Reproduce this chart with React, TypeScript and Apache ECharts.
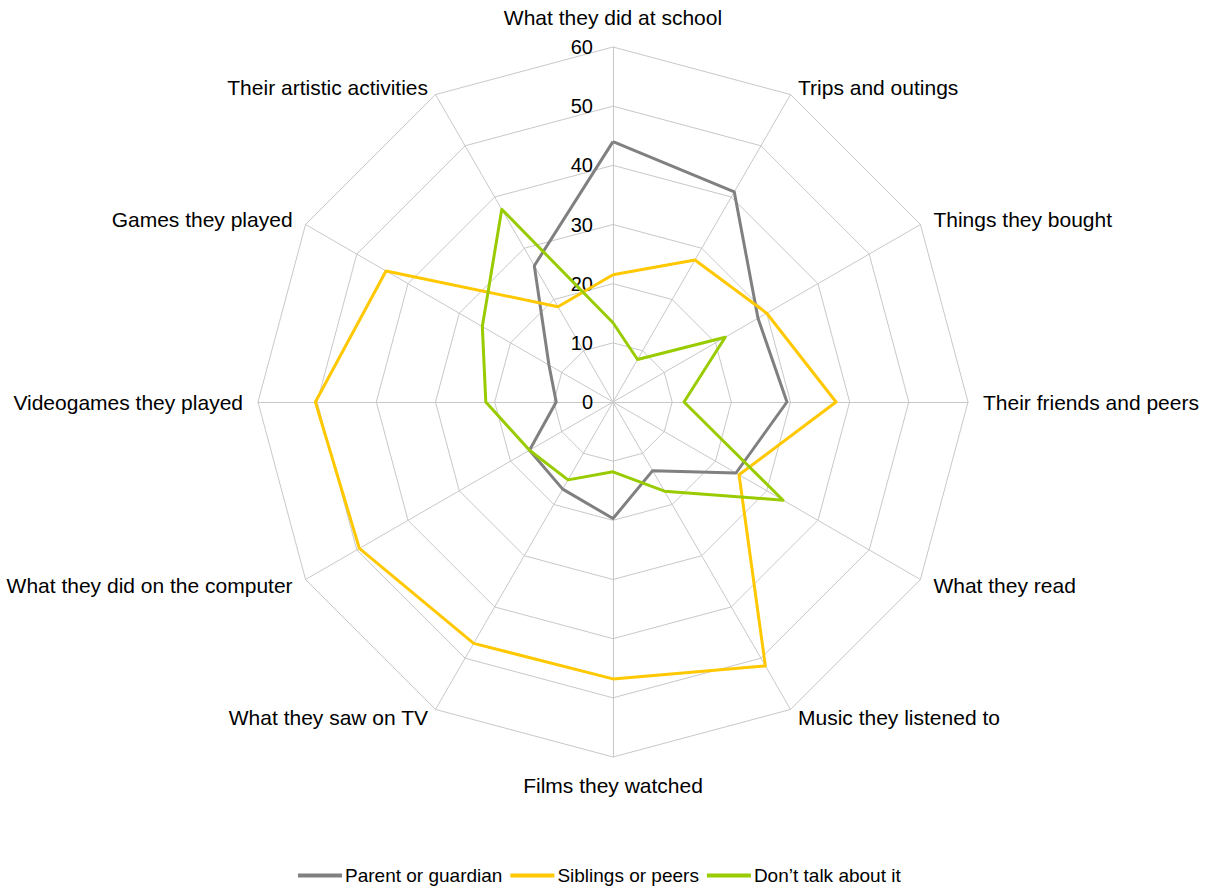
import React, { useEffect, useRef } from "react";
import * as echarts from "echarts";

// Categories, clockwise from the top
const categories = [
  "What they did at school",
  "Trips and outings",
  "Things they bought",
  "Their friends and peers",
  "What they read",
  "Music they listened to",
  "Films they watched",
  "What they saw on TV",
  "What they did on the computer",
  "Videogames they played",
  "Games they played",
  "Their artistic activities",
];

const seriesNames = ["Parent or guardian", "Siblings or peers", "Don\u2019t talk about it"];

const parentValues = [44, 41, 28.3, 29.4, 24, 13.4, 19.7, 17, 16.3, 9.6, 12.5, 26.6];
const siblingValues = [21.5, 27.7, 30, 37.7, 24.6, 51.5, 46.8, 47.1, 49.5, 50.3, 44.3, 18.6];
const noTalkValues = [13.4, 8.3, 21.9, 12, 33.2, 17.4, 11.8, 15.2, 16.3, 21.5, 25.5, 37.6];

const axisMax = 60;
const axisSplits = 6;

const colors = ["#808080", "#FFC800", "#99CC00"];

// label nudges (layout only), clockwise order
const nameStyles: any[] = [
  { verticalAlign: "bottom", padding: [0, 0, 4, 0] },
  { verticalAlign: "top", lineHeight: 11 },
  { verticalAlign: "top", lineHeight: 5 },
  {},
  { verticalAlign: "bottom", lineHeight: 4 },
  { verticalAlign: "bottom", lineHeight: 9 },
  { verticalAlign: "top", padding: [3, 0, 0, 0] },
  { verticalAlign: "bottom", lineHeight: 9 },
  { verticalAlign: "bottom", lineHeight: 4 },
  {},
  { verticalAlign: "top", lineHeight: 5 },
  { verticalAlign: "top", lineHeight: 11 },
];

// ECharts radar runs counter-clockwise: reorder (first stays on top)
const order = [0, ...Array.from({ length: categories.length - 1 }, (_, i) => categories.length - 1 - i)];
const reorder = (arr: any[]) => order.map((i) => arr[i]);

export default function App() {
  const ref = useRef<HTMLDivElement>(null);
  useEffect(() => {
    document.body.style.margin = "0";
    const chart = echarts.init(ref.current!, null, { renderer: "svg" });
    const font = "'Liberation Sans', Arial, sans-serif";
    const styles = reorder(nameStyles);
    const indicator = reorder(categories).map((name, i) => ({
      name,
      max: axisMax,
      min: 0,
      nameTextStyle: { ...styles[i] },
      ...(i === 0
        ? {
            axisLabel: {
              show: true,
              color: "#000",
              fontSize: 20,
              fontFamily: font,
              margin: 20,
            },
          }
        : {}),
    }));
    const all = [parentValues, siblingValues, noTalkValues];
    chart.setOption({
      animation: false,
      backgroundColor: "#fff",
      legend: {
        left: 293,
        top: 861,
        icon: "rect",
        itemWidth: 44,
        itemHeight: 4,
        itemGap: 8,
        textStyle: { color: "#000", fontSize: 19, fontFamily: font, padding: [0, 0, 0, -2] },
        data: seriesNames,
      },
      radar: {
        center: [613, 402],
        radius: 355,
        startAngle: 90,
        shape: "polygon",
        splitNumber: axisSplits,
        indicator,
        axisName: { color: "#000", fontSize: 21, fontFamily: font },
        nameGap: 15,
        axisLine: { lineStyle: { color: "#c8c8c8", width: 1 } },
        splitLine: { lineStyle: { color: "#c8c8c8", width: 1 } },
        splitArea: { show: false },
        axisTick: { show: false },
        axisLabel: { show: false },
      },
      series: [
        {
          type: "radar",
          symbol: "none",
          data: all.map((vals, k) => ({
            name: seriesNames[k],
            value: reorder(vals),
            lineStyle: { color: colors[k], width: 3 },
            itemStyle: { color: colors[k] },
          })),
        },
      ],
    });
    return () => chart.dispose();
  }, []);
  return <div ref={ref} style={{ width: 1217, height: 888 }} />;
}
